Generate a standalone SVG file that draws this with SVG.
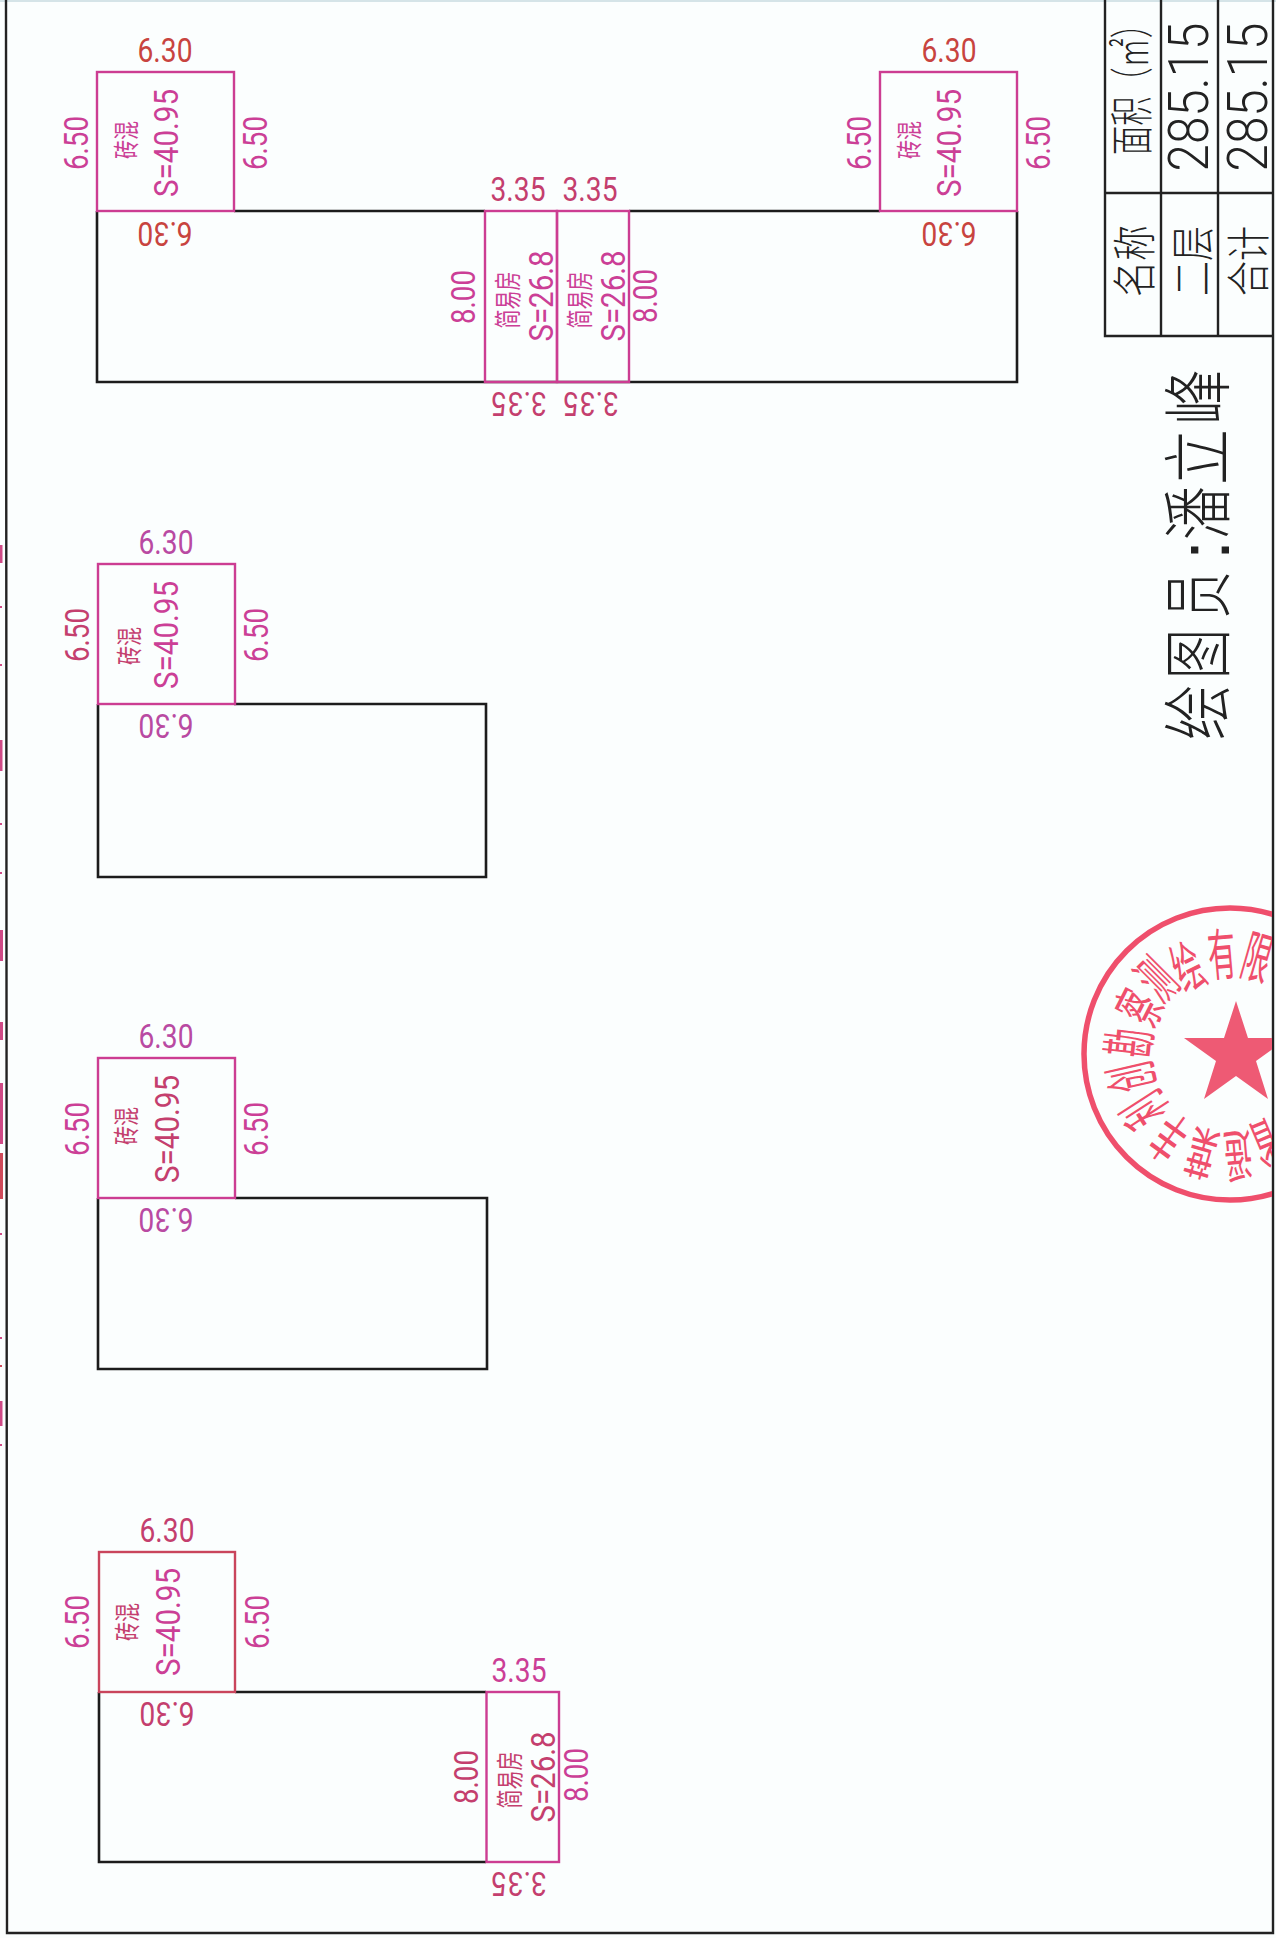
<svg xmlns="http://www.w3.org/2000/svg" width="1276" height="1938" viewBox="0 0 1276 1938">
<style>
text{font-family:Roboto,"Liberation Sans","Noto Sans CJK SC",sans-serif;font-weight:400;text-anchor:middle;font-size:33px}
.c{font-family:"Noto Sans CJK SC",sans-serif;font-weight:400}
.k{font-size:26px}.j{font-size:27px}
.p{fill:#cb3f96}.r{fill:#c8443f}.m{fill:#c43f6e}.v{fill:#b94aa2}
.bl{fill:none;stroke:#1c1c1c;stroke-width:2.6}
.rp{fill:none;stroke:#cc3d92;stroke-width:2.4}
.rr{fill:none;stroke:#c9455c;stroke-width:2.4}
.tb{fill:none;stroke:#222;stroke-width:2.4}
.t{fill:#222;font-size:44px;font-family:"Noto Sans CJK SC",sans-serif;font-weight:300}
.n{fill:#222;font-size:55px;font-family:Roboto,"Liberation Sans",sans-serif;font-weight:300}
.ti{fill:#222;font-size:70px;font-family:"Noto Sans CJK SC",sans-serif;font-weight:300}
.s{fill:#ef4f6c;font-family:"Noto Sans CJK SC",sans-serif;font-size:56px;font-weight:400}
</style>
<defs><clipPath id="cl"><rect x="1000" y="880" width="272" height="340"/></clipPath></defs>
<rect width="1276" height="1938" fill="#fbfefe"/>
<rect width="1276" height="2" fill="#d5e4e8"/>
<g id="scan-marks" fill="#cf4a86"><rect x="0" y="545" width="2.5" height="18"/><rect x="0" y="606" width="2" height="2"/><rect x="0" y="664" width="2" height="2"/><rect x="0" y="740" width="2.5" height="31"/><rect x="0" y="823" width="2" height="2"/><rect x="0" y="872" width="2" height="2"/><rect x="0" y="930" width="3" height="31"/><rect x="0" y="1022" width="3" height="18"/><rect x="0" y="1083" width="3" height="61"/><rect x="0" y="1153" width="3" height="46" fill="#cf4a5a"/><rect x="0" y="1233" width="2" height="2"/><rect x="0" y="1337" width="2" height="2"/><rect x="0" y="1365" width="2" height="2" fill="#cf4a5a"/><rect x="0" y="1401" width="2.5" height="25"/><rect x="0" y="1444" width="2" height="2"/></g>
<path id="frame" class="tb" stroke-width="2.8" d="M6 0L7 1933H1273V0"/>

<g id="building-1">
<path class="bl" d="M234 211H485M629 211H880M1017 211V382H97V211"/>
<rect class="rp" x="97" y="72" width="137" height="139"/>
<rect class="rp" x="485" y="211" width="72" height="171"/>
<rect class="rp" x="557" y="211" width="72" height="171"/>
<rect class="rp" x="880" y="72" width="137" height="139"/>
<text class="r" x="165" y="62" textLength="55" lengthAdjust="spacingAndGlyphs">6.30</text>
<text class="p" transform="translate(88 143) rotate(-90)" textLength="54" lengthAdjust="spacingAndGlyphs">6.50</text>
<text class="p" transform="translate(267 143) rotate(-90)" textLength="54" lengthAdjust="spacingAndGlyphs">6.50</text>
<text class="p" transform="translate(178 143) rotate(-90)" textLength="108" lengthAdjust="spacingAndGlyphs">S=40.95</text>
<text class="c k p" transform="translate(136 140) rotate(-90)" textLength="38" lengthAdjust="spacingAndGlyphs">砖混</text>
<text class="r" transform="translate(165 222) rotate(180)" textLength="55" lengthAdjust="spacingAndGlyphs">6.30</text>
<text class="m" x="518" y="201" textLength="55" lengthAdjust="spacingAndGlyphs">3.35</text>
<text class="m" x="590" y="201" textLength="55" lengthAdjust="spacingAndGlyphs">3.35</text>
<text class="m" transform="translate(519 392) rotate(180)" textLength="55" lengthAdjust="spacingAndGlyphs">3.35</text>
<text class="m" transform="translate(591 392) rotate(180)" textLength="55" lengthAdjust="spacingAndGlyphs">3.35</text>
<text class="p" transform="translate(475 297) rotate(-90)" textLength="54" lengthAdjust="spacingAndGlyphs">8.00</text>
<text class="p" transform="translate(657 296) rotate(-90)" textLength="54" lengthAdjust="spacingAndGlyphs">8.00</text>
<text class="c j p" transform="translate(517.500 300) rotate(-90)" textLength="57" lengthAdjust="spacingAndGlyphs">简易房</text>
<text class="c j p" transform="translate(589.500 300) rotate(-90)" textLength="57" lengthAdjust="spacingAndGlyphs">简易房</text>
<text class="p" transform="translate(553 296) rotate(-90)" textLength="91" lengthAdjust="spacingAndGlyphs">S=26.8</text>
<text class="p" transform="translate(625 296) rotate(-90)" textLength="91" lengthAdjust="spacingAndGlyphs">S=26.8</text>
<text class="r" x="949" y="62" textLength="55" lengthAdjust="spacingAndGlyphs">6.30</text>
<text class="p" transform="translate(871 143) rotate(-90)" textLength="54" lengthAdjust="spacingAndGlyphs">6.50</text>
<text class="p" transform="translate(1050 143) rotate(-90)" textLength="54" lengthAdjust="spacingAndGlyphs">6.50</text>
<text class="p" transform="translate(961 143) rotate(-90)" textLength="108" lengthAdjust="spacingAndGlyphs">S=40.95</text>
<text class="c k p" transform="translate(919 140) rotate(-90)" textLength="38" lengthAdjust="spacingAndGlyphs">砖混</text>
<text class="r" transform="translate(949 222) rotate(180)" textLength="55" lengthAdjust="spacingAndGlyphs">6.30</text>
</g>

<g id="building-2">
<path class="bl" d="M234 704H486V877H98V704"/>
<rect class="rp" x="98" y="564" width="137" height="140"/>
<text class="v" x="166" y="554" textLength="55" lengthAdjust="spacingAndGlyphs">6.30</text>
<text class="m" transform="translate(89 635) rotate(-90)" textLength="54" lengthAdjust="spacingAndGlyphs">6.50</text>
<text class="p" transform="translate(268 635) rotate(-90)" textLength="54" lengthAdjust="spacingAndGlyphs">6.50</text>
<text class="p" transform="translate(178 635) rotate(-90)" textLength="108" lengthAdjust="spacingAndGlyphs">S=40.95</text>
<text class="c k m" transform="translate(139 646) rotate(-90)" textLength="38" lengthAdjust="spacingAndGlyphs">砖混</text>
<text class="v" transform="translate(166 714) rotate(180)" textLength="55" lengthAdjust="spacingAndGlyphs">6.30</text>
</g>

<g id="building-3">
<path class="bl" d="M235 1198H487V1369H98V1198"/>
<rect class="rp" x="98" y="1058" width="137" height="140"/>
<text class="v" x="166" y="1048" textLength="55" lengthAdjust="spacingAndGlyphs">6.30</text>
<text class="p" transform="translate(89 1129) rotate(-90)" textLength="54" lengthAdjust="spacingAndGlyphs">6.50</text>
<text class="p" transform="translate(268 1129) rotate(-90)" textLength="54" lengthAdjust="spacingAndGlyphs">6.50</text>
<text class="m" transform="translate(179 1129) rotate(-90)" textLength="108" lengthAdjust="spacingAndGlyphs">S=40.95</text>
<text class="c k m" transform="translate(136 1126) rotate(-90)" textLength="38" lengthAdjust="spacingAndGlyphs">砖混</text>
<text class="v" transform="translate(166 1208) rotate(180)" textLength="55" lengthAdjust="spacingAndGlyphs">6.30</text>
</g>

<g id="building-4">
<path class="bl" d="M235 1692H486M486 1862H99V1692"/>
<rect class="rr" x="99" y="1552" width="136" height="140"/>
<rect class="rp" x="486.500" y="1692" width="72.500" height="170"/>
<text class="m" x="167" y="1542" textLength="55" lengthAdjust="spacingAndGlyphs">6.30</text>
<text class="p" transform="translate(89 1622) rotate(-90)" textLength="54" lengthAdjust="spacingAndGlyphs">6.50</text>
<text class="p" transform="translate(269 1622) rotate(-90)" textLength="54" lengthAdjust="spacingAndGlyphs">6.50</text>
<text class="p" transform="translate(180 1622) rotate(-90)" textLength="108" lengthAdjust="spacingAndGlyphs">S=40.95</text>
<text class="c k m" transform="translate(137 1622) rotate(-90)" textLength="38" lengthAdjust="spacingAndGlyphs">砖混</text>
<text class="m" transform="translate(167 1702) rotate(180)" textLength="55" lengthAdjust="spacingAndGlyphs">6.30</text>
<text class="p" x="519" y="1682" textLength="55" lengthAdjust="spacingAndGlyphs">3.35</text>
<text class="m" transform="translate(519 1872) rotate(180)" textLength="55" lengthAdjust="spacingAndGlyphs">3.35</text>
<text class="m" transform="translate(478 1777) rotate(-90)" textLength="54" lengthAdjust="spacingAndGlyphs">8.00</text>
<text class="p" transform="translate(588 1775) rotate(-90)" textLength="54" lengthAdjust="spacingAndGlyphs">8.00</text>
<text class="c j m" transform="translate(519.500 1780) rotate(-90)" textLength="57" lengthAdjust="spacingAndGlyphs">简易房</text>
<text class="m" transform="translate(555 1777) rotate(-90)" textLength="91" lengthAdjust="spacingAndGlyphs">S=26.8</text>
</g>

<g id="area-table">
<path class="tb" d="M1105 0V336H1273M1161 0V336M1218 0V336M1105 193H1273"/>
<text class="t" transform="translate(1148 82) rotate(-90)" textLength="146" lengthAdjust="spacingAndGlyphs">面积（㎡）</text>
<text class="t" transform="translate(1151 261) rotate(-90)" textLength="72" lengthAdjust="spacingAndGlyphs">名称</text>
<text class="t" transform="translate(1209 261) rotate(-90)" textLength="70" lengthAdjust="spacingAndGlyphs">二层</text>
<text class="t" transform="translate(1265 261) rotate(-90)" textLength="70" lengthAdjust="spacingAndGlyphs">合计</text>
<text class="n" transform="translate(1208 97) rotate(-90)" textLength="149" lengthAdjust="spacingAndGlyphs">285.15</text>
<text class="n" transform="translate(1267 97) rotate(-90)" textLength="149" lengthAdjust="spacingAndGlyphs">285.15</text>
</g>

<g id="drafter">
<text class="ti" transform="translate(1224 712) rotate(-90)" textLength="56" lengthAdjust="spacingAndGlyphs">绘</text>
<text class="ti" transform="translate(1224 654) rotate(-90)" textLength="50" lengthAdjust="spacingAndGlyphs">图</text>
<text class="ti" transform="translate(1224 595) rotate(-90)" textLength="48" lengthAdjust="spacingAndGlyphs">员</text>
<text class="ti" style="font-family:'Liberation Sans';font-size:72px" transform="translate(1229 550) rotate(-90)">:</text>
<text class="ti" transform="translate(1224 513) rotate(-90)" textLength="54" lengthAdjust="spacingAndGlyphs">潘</text>
<text class="ti" transform="translate(1224 457) rotate(-90)" textLength="56" lengthAdjust="spacingAndGlyphs">立</text>
<text class="ti" transform="translate(1224 397) rotate(-90)" textLength="56" lengthAdjust="spacingAndGlyphs">峰</text>
</g>

<g id="stamp" clip-path="url(#cl)">
<circle cx="1230" cy="1054" r="146" fill="none" stroke="#ef4f6c" stroke-width="5.500"/>
<polygon fill="#ee5a74" points="1236,1001 1248,1038 1288,1038 1256,1061 1268,1099 1236,1076 1204,1099 1216,1061 1184,1038 1224,1038"/>
<g>
<text class="s" transform="translate(1222 955) rotate(-5) scale(.5 1) translate(0 20)">有</text>
<text class="s" transform="translate(1257 958) rotate(16) scale(.5 1) translate(0 20)">限</text>
<text class="s" transform="translate(1293 978) rotate(41) scale(.5 1) translate(0 20)">公</text>
<text class="s" transform="translate(1188 968) rotate(-26) scale(.5 1) translate(0 20)">绘</text>
<text class="s" transform="translate(1157 980) rotate(-45) scale(.5 1) translate(0 20)">测</text>
<text class="s" transform="translate(1140 1008) rotate(-63) scale(.5 1) translate(0 20)">察</text>
<text class="s" transform="translate(1130 1043) rotate(-84) scale(.5 1) translate(0 20)">勘</text>
<text class="s" transform="translate(1132 1077) rotate(-103) scale(.5 1) translate(0 20)">创</text>
<text class="s" transform="translate(1145 1110) rotate(-123) scale(.5 1) translate(0 20)">利</text>
<text class="s" transform="translate(1170 1137) rotate(-144) scale(.5 1) translate(0 20)">丰</text>
<text class="s" transform="translate(1202 1152) rotate(-164) scale(.5 1) translate(0 20)">葉</text>
<text class="s" transform="translate(1238 1155) rotate(175) scale(.5 1) translate(0 20)">遥</text>
<text class="s" transform="translate(1267 1143) rotate(157) scale(.5 1) translate(0 20)">省</text>
</g>
</g>
</svg>
